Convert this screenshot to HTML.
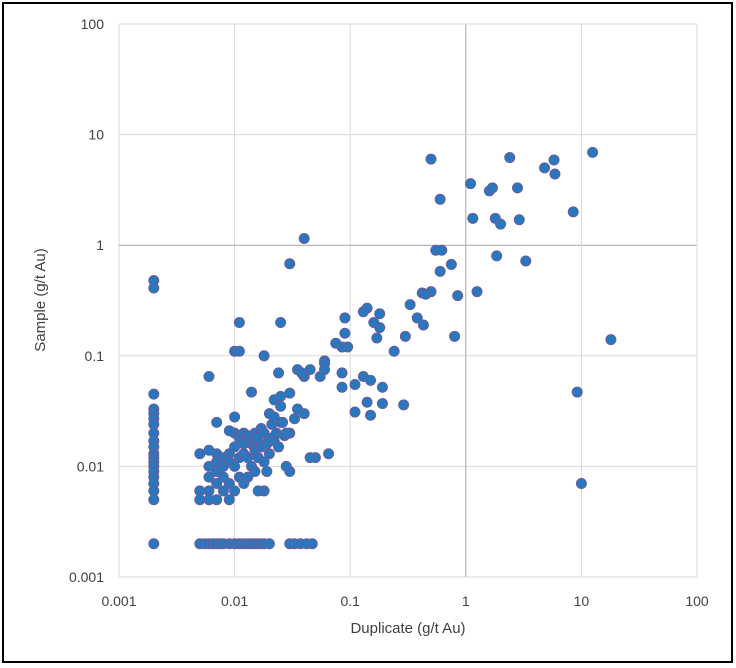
<!DOCTYPE html>
<html><head><meta charset="utf-8">
<style>
body{margin:0;background:#fff;}
svg{display:block;font-family:"Liberation Sans",sans-serif;}
</style></head>
<body>
<svg id="chart" width="736" height="668">
<rect x="3" y="3" width="729" height="659" fill="#fff" stroke="#000" stroke-width="2"/>
<g id="grid"></g>
<g id="ticks"></g>
<g id="points"></g>
<text x="408" y="633" text-anchor="middle" font-size="15" fill="#404040">Duplicate (g/t Au)</text>
<text transform="translate(45,300) rotate(-90)" text-anchor="middle" font-size="15" fill="#404040">Sample (g/t Au)</text>
</svg>
<script>
const tickValues=[0.001,0.01,0.1,1,10,100];
const tickLabels=["0.001","0.01","0.1","1","10","100"];
const dupX=[0.002,0.002,0.002,0.002,0.002,0.002,0.002,0.002,0.002,0.002,0.002,0.002,0.002,0.002,0.002,0.002,0.002,0.002,0.002,0.002,
0.005,0.0055,0.006,0.0065,0.007,0.0075,0.008,0.009,0.01,0.011,0.012,0.013,0.014,0.015,0.016,0.017,0.018,0.02,0.03,0.033,0.037,0.042,0.047,
0.5,0.6,1.1,1.15,1.6,1.7,2.4,2.8,1.8,2.0,2.9,4.8,5.8,5.9,12.5,8.5,3.3,1.85,1.25,0.55,0.62,0.6,0.75,0.85,0.8,0.5,0.42,0.45,0.38,0.33,0.43,0.3,0.24,0.18,0.18,0.16,0.14,0.13,0.09,0.09,0.095,0.085,0.075,0.06,0.06,0.06,0.055,0.045,0.04,0.035,0.038,0.03,0.035,0.04,0.033,0.085,0.085,0.11,0.11,0.13,0.15,0.14,0.15,0.19,0.19,0.29,0.17,9.2,10,18,0.04,0.03,0.01,0.011,0.011,0.025,0.018,0.006,0.024,0.014,0.05,0.045,0.065,0.03,0.028,0.03,0.025,0.022,0.025,0.025,
0.005,0.005,0.005,0.006,0.006,0.006,0.006,0.006,0.007,0.007,0.007,0.007,0.007,0.008,0.008,0.008,0.008,0.009,0.009,0.009,0.009,0.01,0.01,0.01,0.01,0.01,0.011,0.011,0.011,0.012,0.012,0.012,0.013,0.013,0.013,0.014,0.014,0.015,0.015,0.015,0.016,0.016,0.017,0.017,0.018,0.018,0.018,0.019,0.02,0.02,0.021,0.022,0.022,0.023,0.024,0.026,0.027,0.028,0.013,0.016,0.02,0.009,0.007,0.012,0.019];
const sampleY=[0.48,0.41,0.045,0.033,0.03,0.027,0.024,0.02,0.017,0.015,0.013,0.012,0.011,0.01,0.009,0.008,0.007,0.006,0.005,0.002,
0.002,0.002,0.002,0.002,0.002,0.002,0.002,0.002,0.002,0.002,0.002,0.002,0.002,0.002,0.002,0.002,0.002,0.002,0.002,0.002,0.002,0.002,0.002,
6.0,2.6,3.6,1.75,3.1,3.3,6.2,3.3,1.75,1.55,1.7,5.0,5.9,4.4,6.9,2.0,0.72,0.8,0.38,0.9,0.9,0.58,0.67,0.35,0.15,0.38,0.37,0.36,0.22,0.29,0.19,0.15,0.11,0.18,0.24,0.2,0.27,0.25,0.22,0.16,0.12,0.12,0.13,0.09,0.085,0.075,0.065,0.075,0.065,0.075,0.07,0.046,0.033,0.03,0.027,0.07,0.052,0.055,0.031,0.065,0.06,0.038,0.029,0.037,0.052,0.036,0.145,0.047,0.007,0.14,1.15,0.68,0.11,0.11,0.2,0.2,0.1,0.065,0.07,0.047,0.012,0.012,0.013,0.009,0.01,0.02,0.025,0.04,0.043,0.035,
0.013,0.006,0.005,0.014,0.01,0.008,0.006,0.005,0.013,0.011,0.009,0.007,0.005,0.012,0.01,0.008,0.006,0.013,0.011,0.007,0.005,0.028,0.02,0.015,0.01,0.006,0.018,0.012,0.008,0.02,0.013,0.007,0.019,0.012,0.008,0.016,0.01,0.02,0.014,0.009,0.018,0.012,0.022,0.015,0.02,0.011,0.006,0.016,0.03,0.018,0.024,0.028,0.017,0.02,0.015,0.025,0.019,0.02,0.017,0.006,0.013,0.021,0.025,0.016,0.009];
const NS="http://www.w3.org/2000/svg";
const L=119,R=697,T=24,B=577;
function xs(v){return L+(Math.log10(v)+3)/5*(R-L);}
function ys(v){return B-(Math.log10(v)+3)/5*(B-T);}
const grid=document.getElementById('grid'),ticks=document.getElementById('ticks'),pts=document.getElementById('points');
tickValues.forEach((v,i)=>{
  const dark=v===1;
  const vl=document.createElementNS(NS,'line');
  vl.setAttribute('x1',xs(v));vl.setAttribute('x2',xs(v));vl.setAttribute('y1',T);vl.setAttribute('y2',B);
  vl.setAttribute('stroke',dark?'#a6a6a6':'#d9d9d9');vl.setAttribute('stroke-width','1');
  
  
  grid.appendChild(vl);
  const hl=document.createElementNS(NS,'line');
  hl.setAttribute('x1',L);hl.setAttribute('x2',R);hl.setAttribute('y1',ys(v));hl.setAttribute('y2',ys(v));
  hl.setAttribute('stroke',dark?'#a6a6a6':'#d9d9d9');hl.setAttribute('stroke-width','1');
  
  
  grid.appendChild(hl);
  const tx=document.createElementNS(NS,'text');
  tx.setAttribute('x',xs(v));tx.setAttribute('y',B+29);tx.setAttribute('text-anchor','middle');
  tx.setAttribute('font-size','14');tx.setAttribute('fill','#404040');tx.textContent=tickLabels[i];
  
  
  ticks.appendChild(tx);
  const ty=document.createElementNS(NS,'text');
  ty.setAttribute('x',104);ty.setAttribute('y',ys(v)+5);ty.setAttribute('text-anchor','end');
  ty.setAttribute('font-size','14');ty.setAttribute('fill','#404040');ty.textContent=tickLabels[i];
  
  
  ticks.appendChild(ty);
});
dupX.forEach((x,i)=>{
  const c=document.createElementNS(NS,'circle');
  c.setAttribute('cx',xs(x));c.setAttribute('cy',ys(sampleY[i]));c.setAttribute('r','5');
  c.setAttribute('fill','#2878bd');c.setAttribute('stroke','#6a5c9e');c.setAttribute('stroke-width','1');
  
  
  pts.appendChild(c);
});
</script>
</body></html>
